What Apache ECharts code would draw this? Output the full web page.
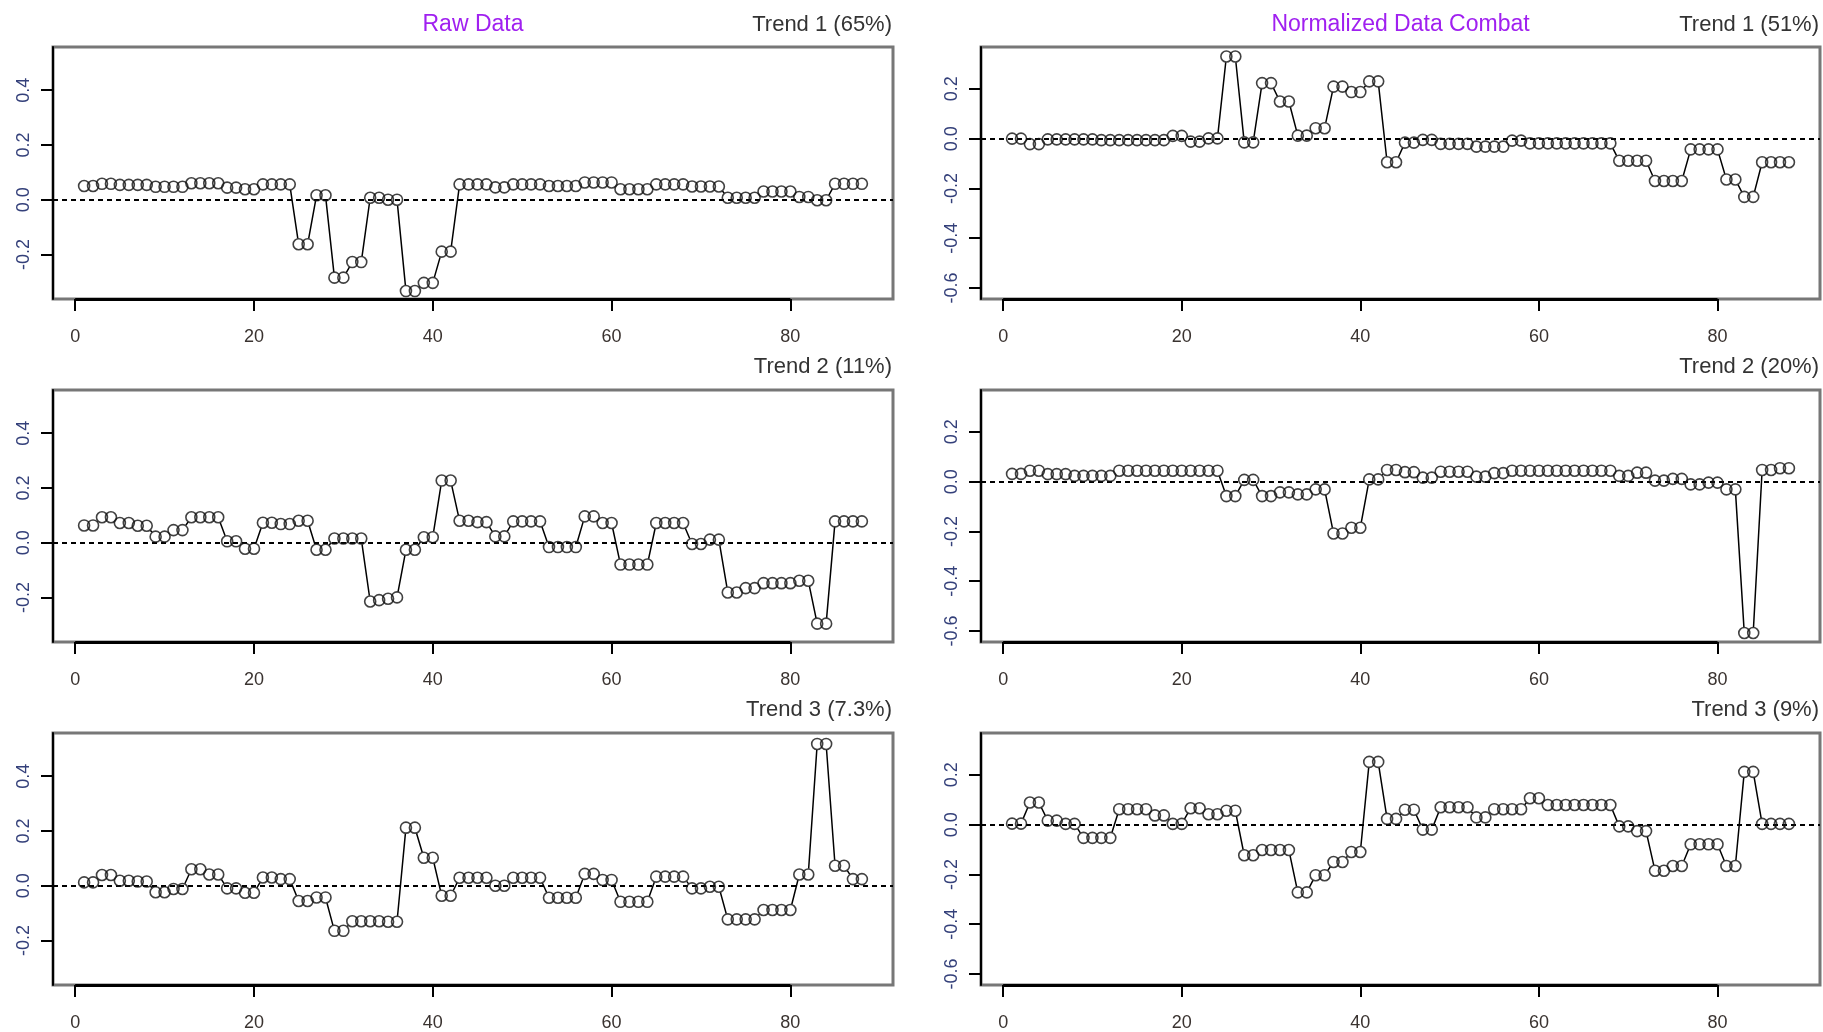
<!DOCTYPE html>
<html>
<head>
<meta charset="utf-8">
<title>Trends: Raw Data vs Normalized Data Combat</title>
<script src="https://cdn.jsdelivr.net/npm/echarts@6.0.0/dist/echarts.min.js"></script>
<style>
  html, body { margin: 0; padding: 0; background: #fff; }
  #main { width: 1823px; height: 1032px; }
</style>
</head>
<body>
<div id="main"></div>
<script>
// sample index on the x axis (1..88)
const samples = Array.from({ length: 88 }, (_, i) => i + 1);

// tick labels
const xTicks = [0, 20, 40, 60, 80];
const rawYTicks = [-0.2, 0, 0.2, 0.4];
const combatYTicks = [-0.6, -0.4, -0.2, 0, 0.2];

// titles
const columnTitles = ['Raw Data', 'Normalized Data Combat'];
const rawTrendTitles = ['Trend 1 (65%)', 'Trend 2 (11%)', 'Trend 3 (7.3%)'];
const combatTrendTitles = ['Trend 1 (51%)', 'Trend 2 (20%)', 'Trend 3 (9%)'];

// values
const rawTrend1 = [
  0.05, 0.05, 0.058, 0.058, 0.054, 0.054, 0.054, 0.054,
  0.047, 0.047, 0.047, 0.047, 0.06, 0.06, 0.06, 0.06,
  0.044, 0.044, 0.038, 0.038, 0.056, 0.056, 0.056, 0.056,
  -0.163, -0.163, 0.016, 0.016, -0.285, -0.285, -0.228, -0.228,
  0.007, 0.007, 0.0, 0.0, -0.334, -0.334, -0.304, -0.304,
  -0.19, -0.19, 0.056, 0.056, 0.056, 0.056, 0.045, 0.045,
  0.056, 0.056, 0.056, 0.056, 0.05, 0.05, 0.05, 0.05,
  0.063, 0.063, 0.063, 0.063, 0.038, 0.038, 0.038, 0.038,
  0.056, 0.056, 0.056, 0.056, 0.048, 0.048, 0.048, 0.048,
  0.007, 0.007, 0.007, 0.007, 0.03, 0.03, 0.03, 0.03,
  0.01, 0.01, -0.002, -0.002, 0.058, 0.058, 0.058, 0.058
];
const rawTrend2 = [
  0.063, 0.063, 0.093, 0.093, 0.072, 0.072, 0.062, 0.062,
  0.022, 0.022, 0.046, 0.046, 0.093, 0.093, 0.093, 0.093,
  0.005, 0.005, -0.022, -0.022, 0.073, 0.073, 0.068, 0.068,
  0.08, 0.08, -0.026, -0.026, 0.015, 0.015, 0.015, 0.015,
  -0.215, -0.21, -0.205, -0.2, -0.026, -0.026, 0.02, 0.02,
  0.227, 0.227, 0.08, 0.08, 0.075, 0.075, 0.023, 0.023,
  0.078, 0.078, 0.078, 0.078, -0.016, -0.016, -0.016, -0.016,
  0.096, 0.096, 0.072, 0.072, -0.08, -0.08, -0.08, -0.08,
  0.072, 0.072, 0.072, 0.072, -0.005, -0.005, 0.011, 0.011,
  -0.182, -0.182, -0.166, -0.166, -0.148, -0.148, -0.148, -0.148,
  -0.139, -0.139, -0.296, -0.296, 0.078, 0.078, 0.078, 0.078
];
const rawTrend3 = [
  0.012, 0.012, 0.039, 0.039, 0.018, 0.018, 0.015, 0.015,
  -0.024, -0.024, -0.012, -0.012, 0.06, 0.06, 0.041, 0.041,
  -0.01, -0.01, -0.026, -0.026, 0.03, 0.03, 0.024, 0.024,
  -0.056, -0.056, -0.043, -0.043, -0.165, -0.165, -0.13, -0.13,
  -0.13, -0.13, -0.132, -0.132, 0.212, 0.212, 0.102, 0.102,
  -0.037, -0.037, 0.029, 0.029, 0.029, 0.029, 0.0, 0.0,
  0.029, 0.029, 0.029, 0.029, -0.044, -0.044, -0.044, -0.044,
  0.043, 0.043, 0.021, 0.021, -0.059, -0.059, -0.059, -0.059,
  0.033, 0.033, 0.033, 0.033, -0.01, -0.01, -0.004, -0.004,
  -0.123, -0.123, -0.123, -0.123, -0.089, -0.089, -0.089, -0.089,
  0.041, 0.041, 0.518, 0.518, 0.073, 0.073, 0.024, 0.024
];
const combatTrend1 = [
  0.0, 0.0, -0.022, -0.022, -0.003, -0.003, -0.003, -0.003,
  -0.003, -0.003, -0.006, -0.006, -0.006, -0.006, -0.006, -0.006,
  -0.006, -0.006, 0.011, 0.011, -0.012, -0.012, 0.001, 0.001,
  0.33, 0.33, -0.015, -0.015, 0.223, 0.223, 0.149, 0.149,
  0.012, 0.012, 0.042, 0.042, 0.209, 0.209, 0.187, 0.187,
  0.23, 0.23, -0.095, -0.095, -0.016, -0.016, -0.005, -0.005,
  -0.021, -0.021, -0.021, -0.021, -0.032, -0.032, -0.032, -0.032,
  -0.008, -0.008, -0.019, -0.019, -0.019, -0.019, -0.019, -0.019,
  -0.019, -0.019, -0.019, -0.019, -0.089, -0.089, -0.089, -0.089,
  -0.17, -0.17, -0.17, -0.17, -0.043, -0.043, -0.043, -0.043,
  -0.164, -0.164, -0.234, -0.234, -0.095, -0.095, -0.095, -0.095
];
const combatTrend2 = [
  0.031, 0.031, 0.044, 0.044, 0.03, 0.03, 0.03, 0.023,
  0.023, 0.023, 0.023, 0.023, 0.044, 0.044, 0.044, 0.044,
  0.044, 0.044, 0.044, 0.044, 0.044, 0.044, 0.044, 0.044,
  -0.058, -0.058, 0.007, 0.007, -0.058, -0.058, -0.043, -0.043,
  -0.051, -0.051, -0.031, -0.031, -0.208, -0.208, -0.185, -0.185,
  0.009, 0.009, 0.047, 0.047, 0.038, 0.038, 0.016, 0.016,
  0.04, 0.04, 0.04, 0.04, 0.02, 0.02, 0.034, 0.034,
  0.044, 0.044, 0.044, 0.044, 0.044, 0.044, 0.044, 0.044,
  0.044, 0.044, 0.044, 0.044, 0.023, 0.023, 0.036, 0.036,
  0.004, 0.004, 0.011, 0.011, -0.011, -0.011, -0.004, -0.004,
  -0.031, -0.031, -0.608, -0.608, 0.047, 0.047, 0.054, 0.054
];
const combatTrend3 = [
  0.004, 0.004, 0.089, 0.089, 0.016, 0.016, 0.003, 0.003,
  -0.053, -0.053, -0.053, -0.053, 0.062, 0.062, 0.062, 0.062,
  0.037, 0.037, 0.003, 0.003, 0.066, 0.066, 0.042, 0.042,
  0.056, 0.056, -0.123, -0.123, -0.102, -0.102, -0.102, -0.102,
  -0.272, -0.272, -0.203, -0.203, -0.15, -0.15, -0.11, -0.11,
  0.252, 0.252, 0.023, 0.023, 0.06, 0.06, -0.02, -0.02,
  0.07, 0.07, 0.07, 0.07, 0.029, 0.029, 0.062, 0.062,
  0.062, 0.062, 0.106, 0.106, 0.079, 0.079, 0.079, 0.079,
  0.079, 0.079, 0.079, 0.079, -0.007, -0.007, -0.026, -0.026,
  -0.185, -0.185, -0.166, -0.166, -0.079, -0.079, -0.079, -0.079,
  -0.166, -0.166, 0.212, 0.212, 0.003, 0.003, 0.003, 0.003
];

const FONT = "'Liberation Sans', Arial, sans-serif";

// layout (px)
const cols = [
  { left: 53, width: 840, yMin: -0.363, yMax: 0.558, ticks: rawYTicks,
    values: [rawTrend1, rawTrend2, rawTrend3], titles: rawTrendTitles },
  { left: 981, width: 839, yMin: -0.644, yMax: 0.368, ticks: combatYTicks,
    values: [combatTrend1, combatTrend2, combatTrend3], titles: combatTrendTitles }
];
const rowTops = [47, 390, 733];
const panelH = 252;
const titleY = [25, 367, 710];

const grids = [], xAxes = [], yAxes = [], series = [], texts = [];

cols.forEach((col, c) => {
  texts.push({
    type: 'text', x: col.left + col.width / 2, y: titleY[0],
    style: { text: columnTitles[c], fill: '#a020f0', font: '23px ' + FONT,
      textAlign: 'center', textVerticalAlign: 'middle' }
  });
  rowTops.forEach((top, r) => {
    const idx = grids.length;
    grids.push({
      left: col.left, top: top, width: col.width, height: panelH,
      show: true, borderColor: '#777', borderWidth: 3, backgroundColor: '#fff'
    });
    xAxes.push({
      type: 'value', gridIndex: idx, min: -2.48, max: 91.48, position: 'bottom',
      axisLine: { show: false, onZero: false },
      splitLine: { show: false },
      axisTick: { show: true, customValues: xTicks, length: 12,
        lineStyle: { color: '#000', width: 2 } },
      axisLabel: { customValues: xTicks, margin: 29, fontSize: 18,
        color: '#3a3330', fontFamily: FONT }
    });
    yAxes.push({
      type: 'value', gridIndex: idx, min: col.yMin, max: col.yMax, position: 'left',
      axisLine: { show: true, onZero: false, lineStyle: { color: '#000', width: 2 } },
      splitLine: { show: false },
      axisTick: { show: true, customValues: col.ticks, length: 12,
        lineStyle: { color: '#000', width: 2 } },
      axisLabel: { customValues: col.ticks, rotate: 90, margin: 20, fontSize: 18,
        color: '#34407a', fontFamily: FONT, formatter: v => v.toFixed(1) }
    });
    const pts = samples.map((s, i) => [s, col.values[r][i]]);
    // connecting line; white discs keep the line out of the circles (R type="b")
    series.push({
      type: 'line', xAxisIndex: idx, yAxisIndex: idx, data: pts, z: 2,
      symbol: 'circle', symbolSize: 12, showSymbol: true,
      itemStyle: { color: '#fff', borderWidth: 0 },
      lineStyle: { color: '#000', width: 1.5 },
      silent: true, animation: false, clip: false,
      markLine: {
        silent: true, symbol: ['none', 'none'], label: { show: false },
        animation: false,
        data: [
          { yAxis: 0, lineStyle: { color: '#000', width: 2, type: [5, 4] } },
          [{ coord: [xTicks[0], col.yMin], lineStyle: { color: '#000', width: 3, type: 'solid' } },
           { coord: [xTicks[xTicks.length - 1], col.yMin] }]
        ]
      }
    });
    // open (see-through) circles on top
    series.push({
      type: 'scatter', xAxisIndex: idx, yAxisIndex: idx, data: pts, z: 6,
      symbol: 'circle', symbolSize: 11,
      itemStyle: { color: 'rgba(255,255,255,0)', borderColor: '#111', borderWidth: 1.6 },
      emphasis: { disabled: true },
      silent: true, animation: false
    });
    texts.push({
      type: 'text', x: col.left + col.width - 1, y: titleY[r],
      style: { text: col.titles[r], fill: '#333', font: '22px ' + FONT,
        textAlign: 'right', textVerticalAlign: 'middle' }
    });
  });
});

const chart = echarts.init(document.getElementById('main'));
chart.setOption({
  backgroundColor: '#fff',
  animation: false,
  grid: grids,
  xAxis: xAxes,
  yAxis: yAxes,
  series: series,
  graphic: texts
});
</script>
</body>
</html>
